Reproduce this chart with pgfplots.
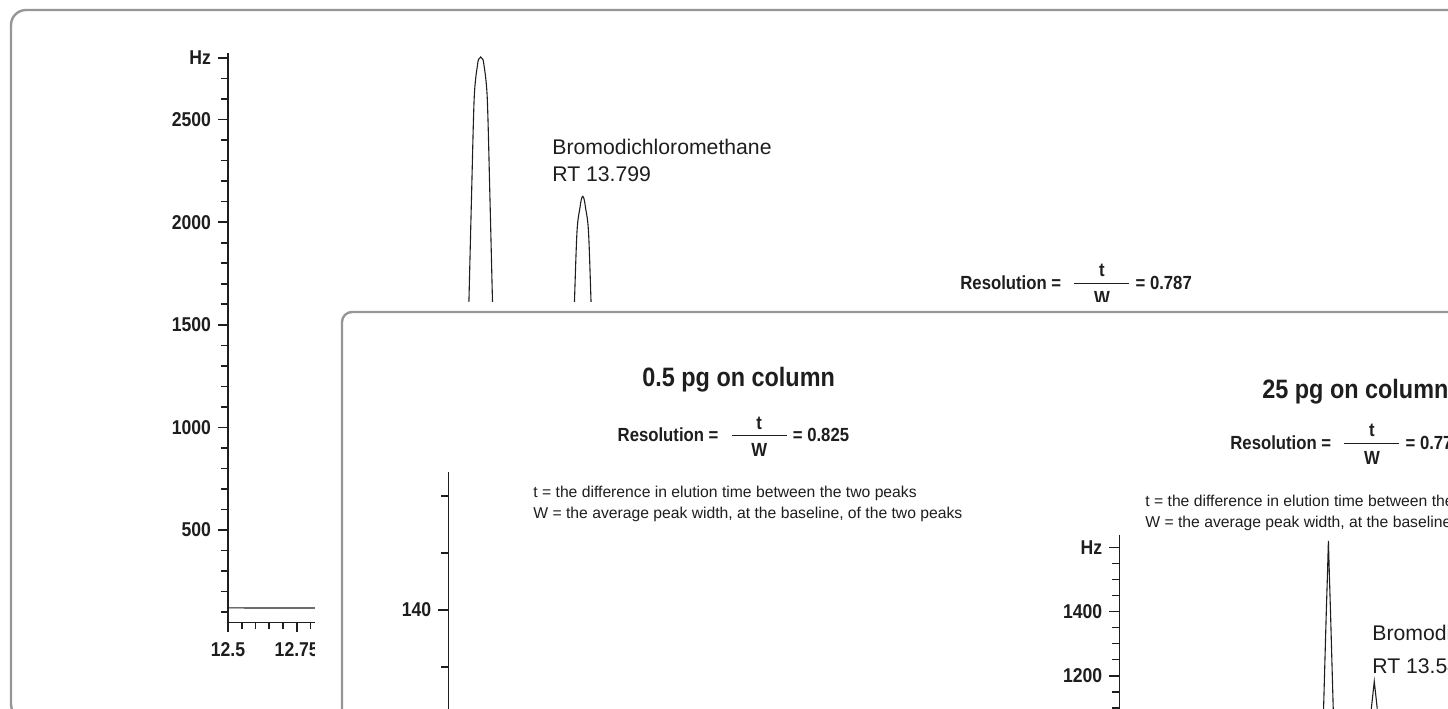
\documentclass[border=0pt]{standalone}
\usepackage{fontspec}
\setmainfont{Liberation Sans}
\newfontfamily\condfont{Liberation Sans}[FakeStretch=0.88]
\usepackage{pgfplots}
\pgfplotsset{compat=1.18}
\definecolor{panelgray}{RGB}{150,150,150}
\definecolor{ink}{RGB}{30,30,30}
\newcommand\ticklbl{\condfont\bfseries\fontsize{10}{12}\selectfont}
\newcommand\resfont{\condfont\bfseries\fontsize{9.5}{11}\selectfont}
\newcommand\titlefont{\condfont\bfseries\fontsize{13.3}{15}\selectfont}
\newcommand\notefont{\fontsize{7.85}{9}\selectfont}
\newcommand\cmpfont{\fontsize{10.6}{12}\selectfont}
\pgfplotsset{
  chrom/.style={
    scale only axis,
    axis lines=left,
    axis line style={-, line width=0.8pt, ink},
    tick align=outside,
    major tick length=5pt,
    minor tick length=3.5pt,
    tick style={ink, line width=0.8pt},
    tick label style={font=\ticklbl, text=ink},
    /pgf/number format/assume math mode=true,
    clip=false,
  }
}
\begin{document}
\begin{tikzpicture}
\useasboundingbox (0,0) rectangle (724pt,-354pt);
\clip (0,0) rectangle (724pt,-354pt);
% ---------------- back panel ----------------
\begin{scope}[x=0.5pt,y=-0.5pt]
  \draw[panelgray, line width=1.2pt, rounded corners=7.5pt] (11,10) rectangle (1520,719);
\end{scope}
\begin{axis}[chrom, anchor=south west, at={(114pt,-311.15pt)},
  width=275pt, height=284.7pt,
  xmin=12.5, xmax=14.5, ymin=50, ymax=2825,
  xtick={12.5,12.75},
  xticklabels={12.5,12.75},
  xticklabel style={yshift=-1.5pt},
  minor xtick={12.55,12.6,12.65,12.7,12.8,12.85,12.9,12.95,13,13.25,13.5,13.75,14,14.25,14.5},
  ytick={500,1000,1500,2000,2500,2800},
  yticklabels={500,1000,1500,2000,2500,Hz},
  minor ytick={100,200,300,400,600,700,800,900,1100,1200,1300,1400,1600,1700,1800,1900,2100,2200,2300,2400,2600,2700},
]
\addplot[ink, line width=0.55pt, smooth, tension=0.5] coordinates {
(12.5,120) (13.30,120) (13.339,122) (13.354,500) (13.365,1000) (13.376,1608)
(13.3855,2121) (13.3954,2609) (13.408,2773) (13.4135,2797) (13.419,2805)
(13.4245,2797) (13.430,2773) (13.4426,2609) (13.4525,2121) (13.4619,1608)
(13.4735,1000) (13.4845,500) (13.499,122) (13.60,120)
(13.721,122) (13.7355,500) (13.7464,1000) (13.7598,1608) (13.7693,1959)
(13.7802,2073) (13.785,2112) (13.79,2126) (13.795,2112) (13.7998,2073)
(13.8107,1959) (13.8202,1608) (13.8336,1000) (13.8445,500) (13.859,122)
(13.95,120) (14.5,120)
};
\end{axis}
\begin{scope}[x=0.5pt,y=-0.5pt, every node/.style={inner sep=0pt, text=ink}]
  \node[anchor=base west, font=\cmpfont] at (552,154) {Bromodichloromethane};
  \node[anchor=base west, font=\cmpfont] at (552,181.7) {RT 13.799};
  \node[anchor=base west, font=\resfont] at (960,289) {Resolution =};
  \draw[ink, line width=0.5pt] (1074.4,283) -- (1129.4,283);
  \node[anchor=base, font=\resfont] at (1101.9,276.6) {t};
  \node[anchor=base, font=\resfont] at (1101.9,304) {W};
  \node[anchor=base west, font=\resfont] at (1135.2,289) {= 0.787};
% ---------------- middle panel ----------------
  \fill[white] (315,301.5) rectangle (1520,760);
  \draw[panelgray, line width=1.2pt, rounded corners=5pt] (342,312) rectangle (1530,760);
\end{scope}
% left chart (0.5 pg)
\begin{axis}[chrom, anchor=north west, at={(224.15pt,-235.85pt)},
  width=275pt, height=296.7pt,
  xmin=12.5, xmax=14.5, ymin=100, ymax=152.15,
  xtick=\empty,
  ytick={140}, yticklabels={140},
  minor ytick={100,105,110,115,120,125,130,135,145,150},
]
\addplot[ink, line width=0.55pt] coordinates {
(12.5,104) (13.36,104) (13.40,126) (13.42,127) (13.44,126) (13.48,104)
(13.75,104) (13.78,118) (13.79,119) (13.80,118) (13.83,104) (14.5,104)
};
\end{axis}
% right chart (25 pg)
\begin{axis}[chrom, anchor=north west, at={(559.65pt,-267.25pt)},
  width=183pt, height=134.8pt,
  xmin=12.5, xmax=14.0, ymin=800, ymax=1640,
  xtick=\empty,
  ytick={1200,1400,1600}, yticklabels={1200,1400,Hz},
  minor ytick={800,850,900,950,1000,1050,1100,1150,1250,1300,1350,1450,1500,1550},
]
\addplot[ink, line width=0.55pt] coordinates {
(12.5,870) (13.3242,870) (13.3304,950) (13.3373,1100) (13.3484,1400) (13.3529,1510)
(13.357,1620) (13.3611,1510) (13.3656,1400) (13.3767,1100) (13.3836,950) (13.3898,870)
(13.5163,870) (13.5266,1000) (13.5335,1102) (13.545,1182) (13.5565,1102)
(13.5634,1000) (13.5737,870) (14.0,870)
};
\end{axis}
\begin{scope}[x=0.5pt,y=-0.5pt, every node/.style={inner sep=0pt, text=ink}]
  % left texts
  \node[anchor=base west, font=\titlefont] at (642,386.7) {0.5 pg on column};
  \node[anchor=base west, font=\resfont] at (617.3,441.7) {Resolution =};
  \draw[ink, line width=0.5pt] (731.7,435.7) -- (786.7,435.7);
  \node[anchor=base, font=\resfont] at (759.2,429.3) {t};
  \node[anchor=base, font=\resfont] at (759.2,456.7) {W};
  \node[anchor=base west, font=\resfont] at (792.5,441.7) {= 0.825};
  \node[anchor=base west, font=\notefont] at (533,497.5) {t = the difference in elution time between the two peaks};
  \node[anchor=base west, font=\notefont] at (533,518) {W = the average peak width, at the baseline, of the two peaks};
  % right texts
  \node[anchor=base west, font=\titlefont] at (1262,398.3) {25 pg on column};
  \node[anchor=base west, font=\resfont] at (1230,449.3) {Resolution =};
  \draw[ink, line width=0.5pt] (1344.4,443.3) -- (1399.4,443.3);
  \node[anchor=base, font=\resfont] at (1371.9,436.9) {t};
  \node[anchor=base, font=\resfont] at (1371.9,464.3) {W};
  \node[anchor=base west, font=\resfont] at (1405.2,449.3) {= 0.771};
  \node[anchor=base west, font=\notefont] at (1145,506.5) {t = the difference in elution time between the two peaks};
  \node[anchor=base west, font=\notefont] at (1145,527) {W = the average peak width, at the baseline, of the two peaks};
  \node[anchor=base west, font=\cmpfont] at (1372,640) {Bromodichloromethane};
  \node[anchor=base west, font=\cmpfont] at (1372,673.3) {RT 13.546};
\end{scope}
\end{tikzpicture}
\end{document}
